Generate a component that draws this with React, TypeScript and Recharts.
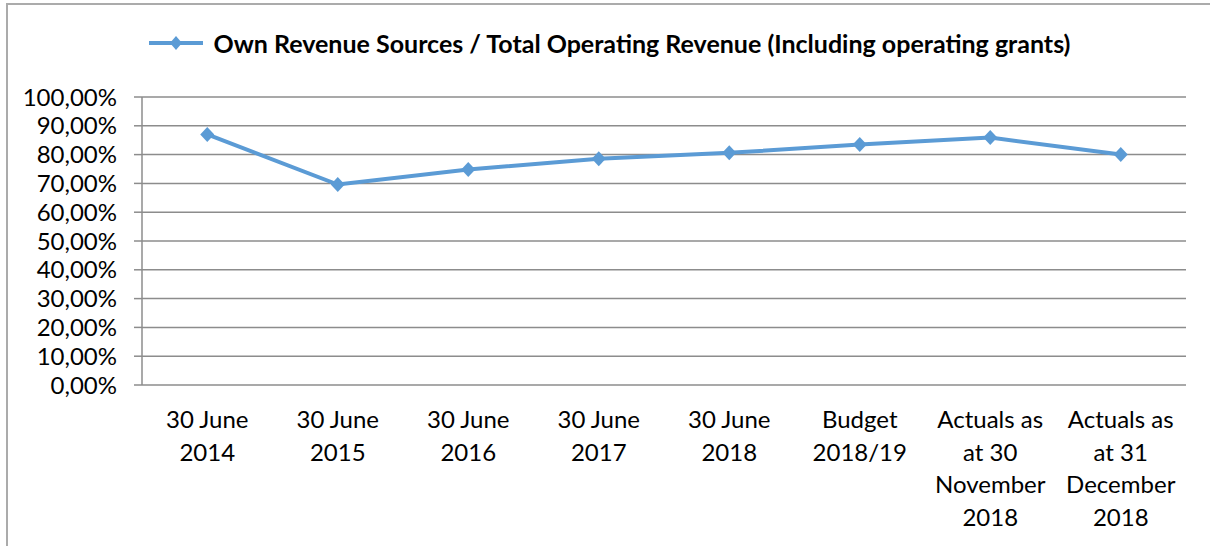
import { LineChart, Line, XAxis, YAxis, CartesianGrid, Legend } from 'recharts';

// x-axis labels, one array per category (rendered as stacked lines)
const categories: string[][] = [
  ['30 June', '2014'],
  ['30 June', '2015'],
  ['30 June', '2016'],
  ['30 June', '2017'],
  ['30 June', '2018'],
  ['Budget', '2018/19'],
  ['Actuals as', 'at 30', 'November', '2018'],
  ['Actuals as', 'at 31', 'December', '2018'],
];

// Own Revenue Sources / Total Operating Revenue, in percent
const ratios = [87.0, 69.6, 74.8, 78.6, 80.6, 83.5, 85.9, 80.0];

const yTicks = [0, 10, 20, 30, 40, 50, 60, 70, 80, 90, 100];
const edgeTicks = [0, 1, 2, 3, 4, 5, 6, 7, 8];

const SERIES_NAME = 'Own Revenue Sources / Total Operating Revenue (Including operating grants)';
const BLUE = '#5b9bd5';
const GRID = '#8c8c8c';
const FONT = 'Lato, "Open Sans", sans-serif';

const data = categories.map((lines, i) => ({ name: lines.join('|'), ratio: ratios[i] }));

const formatPct = (v: number) => `${v.toFixed(2).replace('.', ',')}%`;

const Diamond = (props: any) => {
  const { cx, cy } = props;
  if (cx == null || cy == null) return null;
  return <path d={`M${cx},${cy - 7.5} L${cx + 7},${cy} L${cx},${cy + 7.5} L${cx - 7},${cy} Z`} fill={BLUE} />;
};

const CategoryTick = (props: any) => {
  const { x, y, payload } = props;
  const lines: string[] = String(payload.value).split('|');
  return (
    <text x={x} y={y} textAnchor="middle" fill="#000" fontSize={24} fontFamily={FONT}>
      {lines.map((l, i) => (
        <tspan key={i} x={x} dy={i === 0 ? 35 : 32.5}>{l}</tspan>
      ))}
    </text>
  );
};

const LegendContent = () => (
  <div style={{ display: 'flex', alignItems: 'center', justifyContent: 'center', paddingLeft: 8 }}>
    <svg width={56} height={16} style={{ marginRight: 10 }}>
      <line x1={1} y1={8} x2={55} y2={8} stroke={BLUE} strokeWidth={4} />
      <path d="M28,1 L34,8 L28,15 L22,8 Z" fill={BLUE} />
    </svg>
    <span style={{ fontFamily: FONT, fontWeight: 700, fontSize: 25, color: '#000' }}>{SERIES_NAME}</span>
  </div>
);

export default function App() {
  return (
    <div style={{ position: 'absolute', top: 0, left: 0, width: 1210, height: 546, overflow: 'hidden', background: '#fff' }}>
      <div style={{ position: 'absolute', left: 6, top: 3, width: 1260, height: 600, border: '2px solid #ababab' }} />
      <LineChart width={1210} height={546} data={data} margin={{ top: 97, right: 24, left: 0, bottom: 0 }}>
        <CartesianGrid xAxisId="cat" vertical={false} stroke={GRID} strokeWidth={1.5} />
        <XAxis
          xAxisId="edge"
          type="number"
          domain={[0, 8]}
          ticks={edgeTicks}
          allowDataOverflow
          tick={false}
          tickSize={8}
          height={0}
          stroke={GRID}
          strokeWidth={1.5}
        />
        <XAxis
          xAxisId="cat"
          dataKey="name"
          scale="band"
          interval={0}
          axisLine={false}
          tickLine={false}
          height={161}
          tick={<CategoryTick />}
        />
        <YAxis
          domain={[0, 100]}
          ticks={yTicks}
          interval={0}
          width={142}
          tickFormatter={formatPct}
          tickSize={8}
          tickMargin={17}
          stroke={GRID}
          strokeWidth={1.5}
          tick={{ fontSize: 24, fill: '#000', fontFamily: FONT }}
        />
        <Legend
          layout="horizontal"
          verticalAlign="middle"
          align="center"
          content={<LegendContent />}
          wrapperStyle={{ top: 28, left: 0, width: 1210 }}
        />
        <Line
          xAxisId="cat"
          dataKey="ratio"
          name={SERIES_NAME}
          stroke={BLUE}
          strokeWidth={4}
          dot={<Diamond />}
          activeDot={false}
          isAnimationActive={false}
        />
      </LineChart>
    </div>
  );
}
